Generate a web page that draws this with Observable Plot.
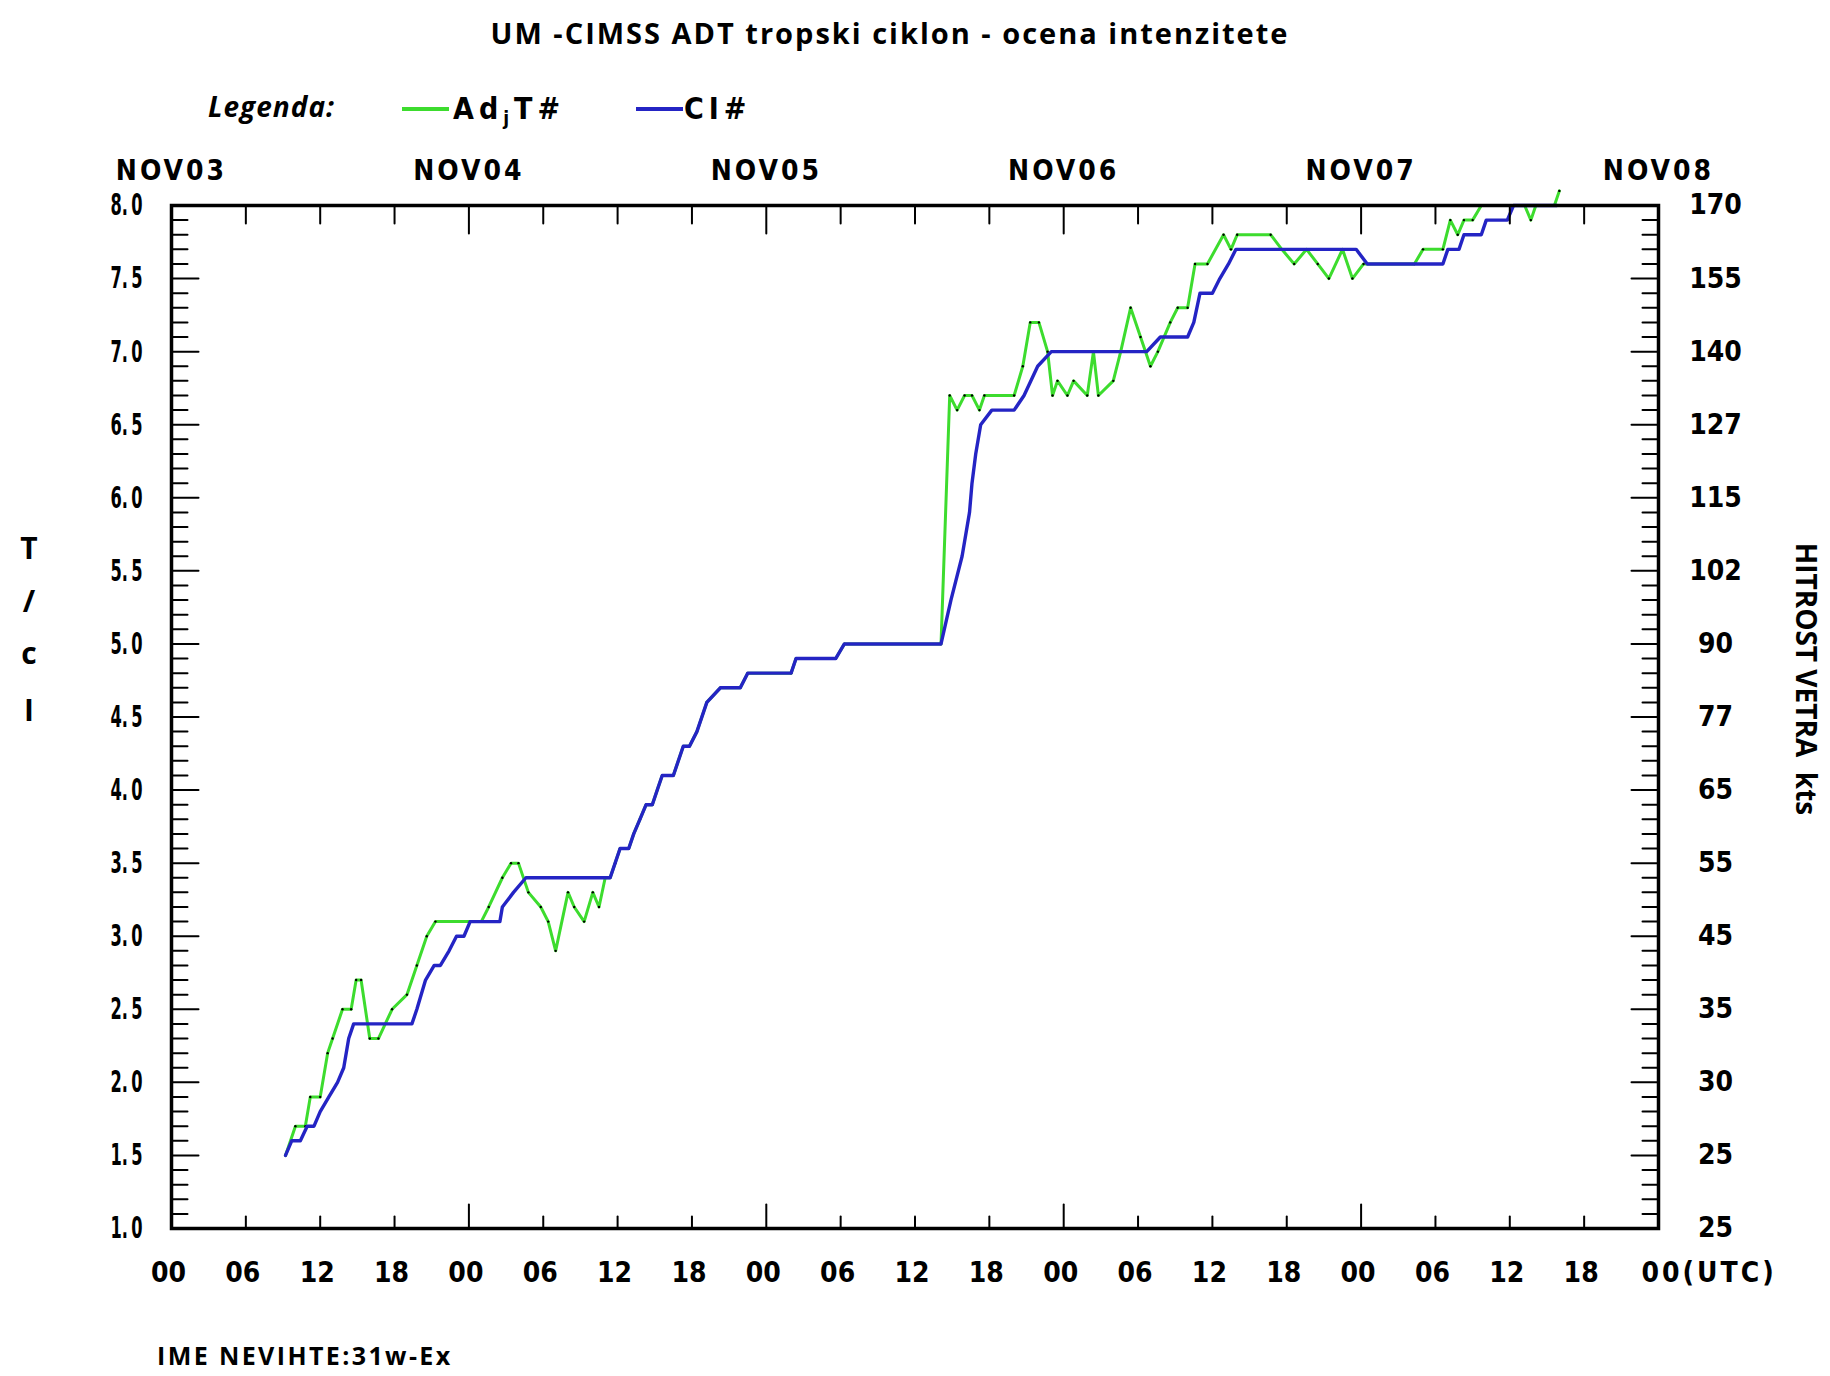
<!DOCTYPE html>
<html>
<head>
<meta charset="utf-8">
<script src="https://cdn.jsdelivr.net/npm/d3@7"></script>
<script src="https://cdn.jsdelivr.net/npm/@observablehq/plot@0.6"></script>
<style>
  body { margin: 0; background: #fff; }
  #wrap { position: relative; width: 1830px; height: 1376px; overflow: hidden; background: #fff; }
  #chart { position: absolute; left: 0; top: 0; }
  .ov { position: absolute; white-space: nowrap; color: #000; line-height: 1; }
  .tf { font-family: "Open Sans", "DejaVu Sans", sans-serif; font-weight: bold; }
  .af { font-family: "DejaVu Sans Condensed", "DejaVu Sans", sans-serif; font-weight: bold; }
</style>
</head>
<body>
<div id="wrap">
  <div id="chart"></div>
  <div class="ov tf" id="title" style="left:0;width:1780px;text-align:center;top:18px;font-size:29px;letter-spacing:2px;">UM -CIMSS ADT tropski ciklon - ocena intenzitete</div>
  <div class="ov tf" style="left:208px;top:92px;font-size:28px;font-style:italic;letter-spacing:1px;">Legenda:</div>
  <div class="ov" style="left:402px;top:107px;width:47px;height:4px;background:#3ddc2e;"></div>
  <div class="ov af" style="left:453px;top:94px;font-size:30px;letter-spacing:5px;">Ad<sub style="font-size:19px;vertical-align:-6px;">j</sub>T#</div>
  <div class="ov" style="left:636px;top:107px;width:47px;height:4px;background:#2424c4;"></div>
  <div class="ov af" style="left:684px;top:94px;font-size:30px;letter-spacing:5px;">CI#</div>
  <div class="ov tf" style="left:9px;width:40px;text-align:center;top:533px;font-size:30px;">T</div>
  <div class="ov tf" style="left:9px;width:40px;text-align:center;top:586px;font-size:30px;">/</div>
  <div class="ov tf" style="left:9px;width:40px;text-align:center;top:638px;font-size:30px;">c</div>
  <div class="ov tf" style="left:9px;width:40px;text-align:center;top:695px;font-size:30px;">I</div>
  <div class="ov tf" style="left:1556px;width:500px;text-align:center;top:664px;font-size:28px;transform:rotate(90deg);transform-origin:250px 15px;">HITROST VETRA&nbsp; kts</div>
  <div class="ov tf" style="left:157px;top:1343px;font-size:25px;letter-spacing:2.4px;">IME NEVIHTE:31w-Ex</div>
</div>
<script>
// ---- data: hours since NOV03 00 UTC ----
const adjHours = [9.2,10.0,10.8,11.2,12.0,12.6,13.0,13.8,14.5,14.9,15.3,16.0,16.7,17.8,19.0,19.8,20.6,21.3,24.1,25.0,25.6,26.7,27.4,28.0,28.8,29.8,30.4,31.0,32.0,32.5,33.3,34.0,34.5,35.0,35.4,35.8,36.2,36.9,37.3,37.8,38.3,38.8,39.2,39.6,40.5,41.3,41.8,42.4,43.2,44.3,45.9,46.5,50.0,50.4,53.6,54.3,62.1,62.8,63.4,64.0,64.6,65.2,65.6,68.0,68.7,69.3,70.0,70.7,71.1,71.5,72.3,72.8,73.9,74.4,74.8,76.0,76.6,77.4,78.2,79.0,79.6,80.6,81.2,82.0,82.6,83.6,84.9,85.5,86.0,88.7,89.6,90.6,91.6,92.5,93.4,94.5,95.3,96.2,100.3,101.0,102.6,103.2,103.8,104.3,105.0,105.7,109.2,109.7,110.1,111.6,112.0];
const adjValues = [1.5,1.7,1.7,1.9,1.9,2.2,2.3,2.5,2.5,2.7,2.7,2.3,2.3,2.5,2.6,2.8,3.0,3.1,3.1,3.1,3.2,3.4,3.5,3.5,3.3,3.2,3.1,2.9,3.3,3.2,3.1,3.3,3.2,3.4,3.4,3.5,3.6,3.6,3.7,3.8,3.9,3.9,4.0,4.1,4.1,4.3,4.3,4.4,4.6,4.7,4.7,4.8,4.8,4.9,4.9,5.0,5.0,6.7,6.6,6.7,6.7,6.6,6.7,6.7,6.9,7.2,7.2,7.0,6.7,6.8,6.7,6.8,6.7,7.0,6.7,6.8,7.0,7.3,7.1,6.9,7.0,7.2,7.3,7.3,7.6,7.6,7.8,7.7,7.8,7.8,7.7,7.6,7.7,7.6,7.5,7.7,7.5,7.6,7.6,7.7,7.7,7.9,7.8,7.9,7.9,8.0,8.0,7.9,8.0,8.0,8.1];
const ciHours = [9.2,9.7,10.4,10.95,11.5,12.0,12.7,13.4,13.9,14.3,14.7,19.4,19.8,20.5,21.2,21.7,22.4,23.0,23.6,24.1,26.5,26.7,27.6,28.6,35.4,35.8,36.2,36.9,37.3,37.8,38.3,38.8,39.2,39.6,40.5,41.3,41.8,42.4,43.2,44.3,45.9,46.5,50.0,50.4,53.6,54.3,62.1,62.9,63.8,64.4,64.6,64.9,65.3,66.2,68.0,68.8,69.9,71.0,78.7,79.8,82.0,82.5,83.0,84.0,84.6,85.3,85.9,95.6,96.5,102.6,103.0,103.9,104.3,105.7,106.1,107.8,108.3,111.8];
const ciValues = [1.5,1.6,1.6,1.7,1.7,1.8,1.9,2.0,2.1,2.3,2.4,2.4,2.5,2.7,2.8,2.8,2.9,3.0,3.0,3.1,3.1,3.2,3.3,3.4,3.4,3.5,3.6,3.6,3.7,3.8,3.9,3.9,4.0,4.1,4.1,4.3,4.3,4.4,4.6,4.7,4.7,4.8,4.8,4.9,4.9,5.0,5.0,5.3,5.6,5.9,6.1,6.3,6.5,6.6,6.6,6.7,6.9,7.0,7.0,7.1,7.1,7.2,7.4,7.4,7.5,7.6,7.7,7.7,7.6,7.6,7.7,7.7,7.8,7.8,7.9,7.9,8.0,8.0];

// ---- ticks and labels ----
const dayHours = [0, 24, 48, 72, 96, 120];
const dayLabels = ["NOV03", "NOV04", "NOV05", "NOV06", "NOV07", "NOV08"];
const sixHours = [0,6,12,18,24,30,36,42,48,54,60,66,72,78,84,90,96,102,108,114,120];
const hourLabels = ["00","06","12","18","00","06","12","18","00","06","12","18","00","06","12","18","00","06","12","18","00(UTC)"];
const yMajor = [1.0,1.5,2.0,2.5,3.0,3.5,4.0,4.5,5.0,5.5,6.0,6.5,7.0,7.5,8.0];
const leftLabels = ["1.\u20090","1.\u20095","2.\u20090","2.\u20095","3.\u20090","3.\u20095","4.\u20090","4.\u20095","5.\u20090","5.\u20095","6.\u20090","6.\u20095","7.\u20090","7.\u20095","8.\u20090"];
const ktsLabels = ["25","25","30","35","45","55","65","77","90","102","115","127","140","155","170"];
const yMinor = d3.range(11, 80).filter(d => d % 5 !== 0).map(d => d / 10);

const GREEN = "#3ddc2e";
const BLUE = "#2424c4";
const AXFONT = '"DejaVu Sans Condensed","DejaVu Sans",sans-serif';

const adj = adjHours.map((h, i) => ({h, v: adjValues[i]}));
const ci = ciHours.map((h, i) => ({h, v: ciValues[i]}));

const tickShape = {draw(ctx, l) { ctx.moveTo(0, 0); ctx.lineTo(0, -l); }};
const tk = (data, o) => Plot.vector(data, {anchor: "start", shape: tickShape, stroke: "black", strokeWidth: 2, ...o});

const sixOnly = sixHours.filter(h => h % 24 !== 0);

const chart = Plot.plot({
  width: 1830,
  height: 1376,
  marginLeft: 171,
  marginRight: 172,
  marginTop: 205,
  marginBottom: 148,
  x: {type: "linear", domain: [0, 120], axis: null},
  y: {type: "linear", domain: [1, 8], axis: null},
  style: {fontFamily: AXFONT, fontWeight: "bold", fontSize: "28px", color: "black", background: "white", overflow: "visible"},
  marks: [
    Plot.line(adj, {x: "h", y: "v", stroke: GREEN, strokeWidth: 3}),
    Plot.dot(adj, {x: "h", y: "v", r: 1.2, fill: "black"}),
    Plot.line(ci, {x: "h", y: "v", stroke: BLUE, strokeWidth: 3.4}),
    // bottom ticks
    tk(dayHours, {x: d => d, frameAnchor: "bottom", length: 24, rotate: 0}),
    tk(sixOnly, {x: d => d, frameAnchor: "bottom", length: 12, rotate: 0}),
    // top ticks
    tk(dayHours, {x: d => d, frameAnchor: "top", length: 28, rotate: 180}),
    tk(sixOnly, {x: d => d, frameAnchor: "top", length: 18, rotate: 180}),
    // left ticks
    tk(yMajor, {y: d => d, frameAnchor: "left", length: 27, rotate: 90}),
    tk(yMinor, {y: d => d, frameAnchor: "left", length: 16, rotate: 90}),
    // right ticks
    tk(yMajor, {y: d => d, frameAnchor: "right", length: 27, rotate: -90}),
    tk(yMinor, {y: d => d, frameAnchor: "right", length: 16, rotate: -90}),
    Plot.frame({stroke: "black", strokeWidth: 3.5}),
    // labels
    Plot.text(dayHours, {x: d => d, text: (d, i) => dayLabels[i], frameAnchor: "top", dy: -45}),
    Plot.text(sixHours.slice(0, -1), {x: d => d, text: (d, i) => hourLabels[i], frameAnchor: "bottom", dy: 53, dx: -3}),
    Plot.text(sixHours.slice(-1), {x: d => d, text: () => hourLabels[hourLabels.length - 1], frameAnchor: "bottom", dy: 53, dx: -17, textAnchor: "start"}),
    Plot.text(yMajor, {y: d => d, text: (d, i) => leftLabels[i], frameAnchor: "left", dx: -29, textAnchor: "end"}),
    Plot.text(yMajor, {y: d => d, text: (d, i) => ktsLabels[i], frameAnchor: "right", dx: 57, textAnchor: "middle"})
  ]
});
document.getElementById("chart").appendChild(chart);

// typographic tuning of tick labels to match the reference's bitmap font
const leftSet = new Set(leftLabels), daySet = new Set(dayLabels);
d3.select(chart).selectAll("text").each(function () {
  const t = this.textContent;
  if (leftSet.has(t)) {
    this.style.fontSize = "31px";
    this.setAttribute("textLength", 32);
    this.setAttribute("lengthAdjust", "spacingAndGlyphs");
  } else if (daySet.has(t)) {
    this.style.letterSpacing = "3px";
  } else if (t === hourLabels[hourLabels.length - 1]) {
    this.style.letterSpacing = "3px";
  }
});
</script>
</body>
</html>
